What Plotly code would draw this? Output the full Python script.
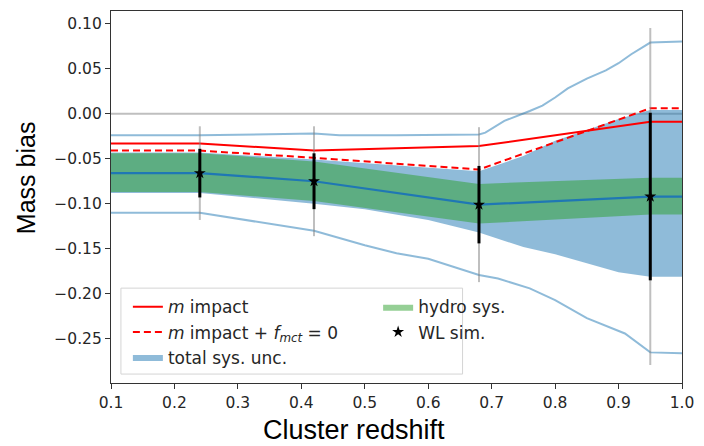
import plotly.graph_objects as go

# Redshift grid of the model curves
z_grid = [0.1, 0.24, 0.42, 0.68, 0.95, 1.0]
m_impact = [-0.033, -0.033, -0.041, -0.036, -0.009, -0.009]
m_impact_fmct0 = [-0.041, -0.041, -0.049, -0.062, 0.006, 0.006]
hydro_mid = [-0.066, -0.066, -0.075, -0.101, -0.092, -0.092]
hydro_hi = [-0.044, -0.044, -0.053, -0.078, -0.071, -0.071]
hydro_lo = [-0.087, -0.087, -0.097, -0.122, -0.112, -0.112]

# Total systematic uncertainty band
z_tot = [0.1, 0.24, 0.42, 0.5, 0.6, 0.68, 0.75, 0.8, 0.85, 0.9, 0.95, 1.0]
tot_hi = [-0.043, -0.043, -0.051, -0.055, -0.060, -0.064, -0.047, -0.030, -0.018, -0.006, 0.004, 0.004]
tot_lo = [-0.088, -0.088, -0.100, -0.106, -0.118, -0.132, -0.148, -0.156, -0.166, -0.176, -0.181, -0.181]

# Outer envelope lines
z_env_hi = [0.1, 0.24, 0.42, 0.46, 0.55, 0.68, 0.69, 0.72, 0.76, 0.78, 0.80, 0.82, 0.85, 0.88, 0.90, 0.92, 0.95, 1.0]
env_hi = [-0.024, -0.024, -0.022, -0.024, -0.024, -0.023, -0.021, -0.008, 0.003, 0.009, 0.018, 0.028, 0.039, 0.048, 0.056, 0.066, 0.079, 0.080]
z_env_lo = [0.1, 0.24, 0.42, 0.5, 0.55, 0.6, 0.68, 0.71, 0.76, 0.8, 0.85, 0.91, 0.95, 1.0]
env_lo = [-0.110, -0.110, -0.130, -0.146, -0.155, -0.161, -0.179, -0.183, -0.194, -0.207, -0.227, -0.244, -0.265, -0.266]

# Weak-lensing simulation points
wl_z = [0.24, 0.42, 0.68, 0.95]
wl_bias = [-0.066, -0.075, -0.101, -0.092]
wl_err_stat = [0.027, 0.031, 0.043, 0.093]
wl_err_full = [0.052, 0.061, 0.086, 0.187]

x_ticks = [0.1, 0.2, 0.3, 0.4, 0.5, 0.6, 0.7, 0.8, 0.9, 1.0]
y_ticks = [0.10, 0.05, 0.00, -0.05, -0.10, -0.15, -0.20, -0.25]

C0 = "#1f77b4"
C0_half = "rgba(31,119,180,0.5)"
C2_half = "rgba(44,160,44,0.5)"
RED = "#ff0000"

fig = go.Figure()

# zero reference line
fig.add_trace(go.Scatter(x=[0.1, 1.0], y=[0, 0], mode="lines",
                         line=dict(color="rgba(128,128,128,0.5)", width=2),
                         showlegend=False, hoverinfo="skip"))

fig.add_trace(go.Scatter(x=z_tot + z_tot[::-1], y=tot_hi + tot_lo[::-1],
                         fill="toself", fillcolor=C0_half, mode="lines",
                         line=dict(width=0, color=C0_half),
                         name="total sys. unc.", legend="legend", legendrank=3))
fig.add_trace(go.Scatter(x=z_grid + z_grid[::-1], y=hydro_hi + hydro_lo[::-1],
                         fill="toself", fillcolor=C2_half, mode="lines",
                         line=dict(width=0, color=C2_half),
                         name="hydro sys.", legend="legend2", legendrank=1))
fig.add_trace(go.Scatter(x=z_grid, y=hydro_mid, mode="lines",
                         line=dict(color=C0, width=2.2), showlegend=False))
fig.add_trace(go.Scatter(x=z_env_hi, y=env_hi, mode="lines",
                         line=dict(color=C0_half, width=2), showlegend=False))
fig.add_trace(go.Scatter(x=z_env_lo, y=env_lo, mode="lines",
                         line=dict(color=C0_half, width=2), showlegend=False))

fig.add_trace(go.Scatter(x=z_grid, y=m_impact, mode="lines",
                         line=dict(color=RED, width=2),
                         name="<i>m</i> impact", legend="legend", legendrank=1))
fig.add_trace(go.Scatter(x=z_grid, y=m_impact_fmct0, mode="lines",
                         line=dict(color=RED, width=2, dash="7px,4px"),
                         name="<i>m</i> impact + <i>f<sub>mct</sub></i> = 0",
                         legend="legend", legendrank=2))

# error bars: full (grey) and statistical (black)
fig.add_trace(go.Scatter(x=wl_z, y=wl_bias, mode="markers",
                         marker=dict(size=1, color="rgba(0,0,0,0)"),
                         error_y=dict(type="data", array=wl_err_full, width=0,
                                      thickness=2, color="rgba(128,128,128,0.5)"),
                         showlegend=False))
fig.add_trace(go.Scatter(x=wl_z, y=wl_bias, mode="markers",
                         marker=dict(symbol="star", size=9, color="black"),
                         error_y=dict(type="data", array=wl_err_stat, width=0,
                                      thickness=3, color="black"),
                         name="WL sim.", legend="legend2", legendrank=2))

# legend frame
fig.add_shape(type="rect", xref="paper", yref="paper",
              x0=0.0174, x1=0.6157, y0=0.024, y1=0.255,
              line=dict(color="#d4d4d4", width=1),
              fillcolor="rgba(255,255,255,0.8)", layer="above")

tick_font = dict(family="DejaVu Sans", size=15.5, color="#262626")
leg_font = dict(family="DejaVu Sans", size=17, color="#262626")

fig.update_layout(
    width=704, height=446,
    margin=dict(l=111, r=18, t=10, b=63),
    plot_bgcolor="white", paper_bgcolor="white",
    showlegend=True,
    legend=dict(x=(128 - 111) / 575, y=0.252, xanchor="left", yanchor="top",
                bgcolor="rgba(0,0,0,0)", font=leg_font, traceorder="normal",
                itemwidth=30),
    legend2=dict(x=(380 - 111) / 575, y=0.252, xanchor="left", yanchor="top",
                 bgcolor="rgba(0,0,0,0)", font=leg_font, traceorder="normal",
                 itemwidth=30),
    xaxis=dict(range=[0.1, 1.0], tickvals=x_ticks,
               ticktext=[f"{v:.1f}" for v in x_ticks],
               showgrid=False, zeroline=False, showline=True, mirror=True,
               linecolor="#333333", linewidth=1.2, ticks="outside",
               ticklen=5, tickcolor="#333333", tickfont=tick_font),
    yaxis=dict(range=[-0.299, 0.114], tickvals=y_ticks,
               ticktext=[f"{v:.2f}".replace("-", "\u2212") for v in y_ticks],
               showgrid=False, zeroline=False, showline=True, mirror=True,
               linecolor="#333333", linewidth=1.2, ticks="outside",
               ticklen=5, tickcolor="#333333", tickfont=tick_font),
)

fig.add_annotation(text="Cluster redshift", xref="paper", yref="paper",
                   x=(356 - 111) / 575, y=(383 - 430) / 373,
                   xanchor="center", yanchor="middle", showarrow=False,
                   font=dict(family="Liberation Sans", size=27, color="black"))
fig.add_annotation(text="Mass bias", xref="paper", yref="paper",
                   x=(25 - 111) / 575, y=(383 - 177) / 373,
                   xanchor="center", yanchor="middle", showarrow=False,
                   textangle=-90,
                   font=dict(family="Liberation Sans", size=25, color="black"))

fig.write_html("out.html")
